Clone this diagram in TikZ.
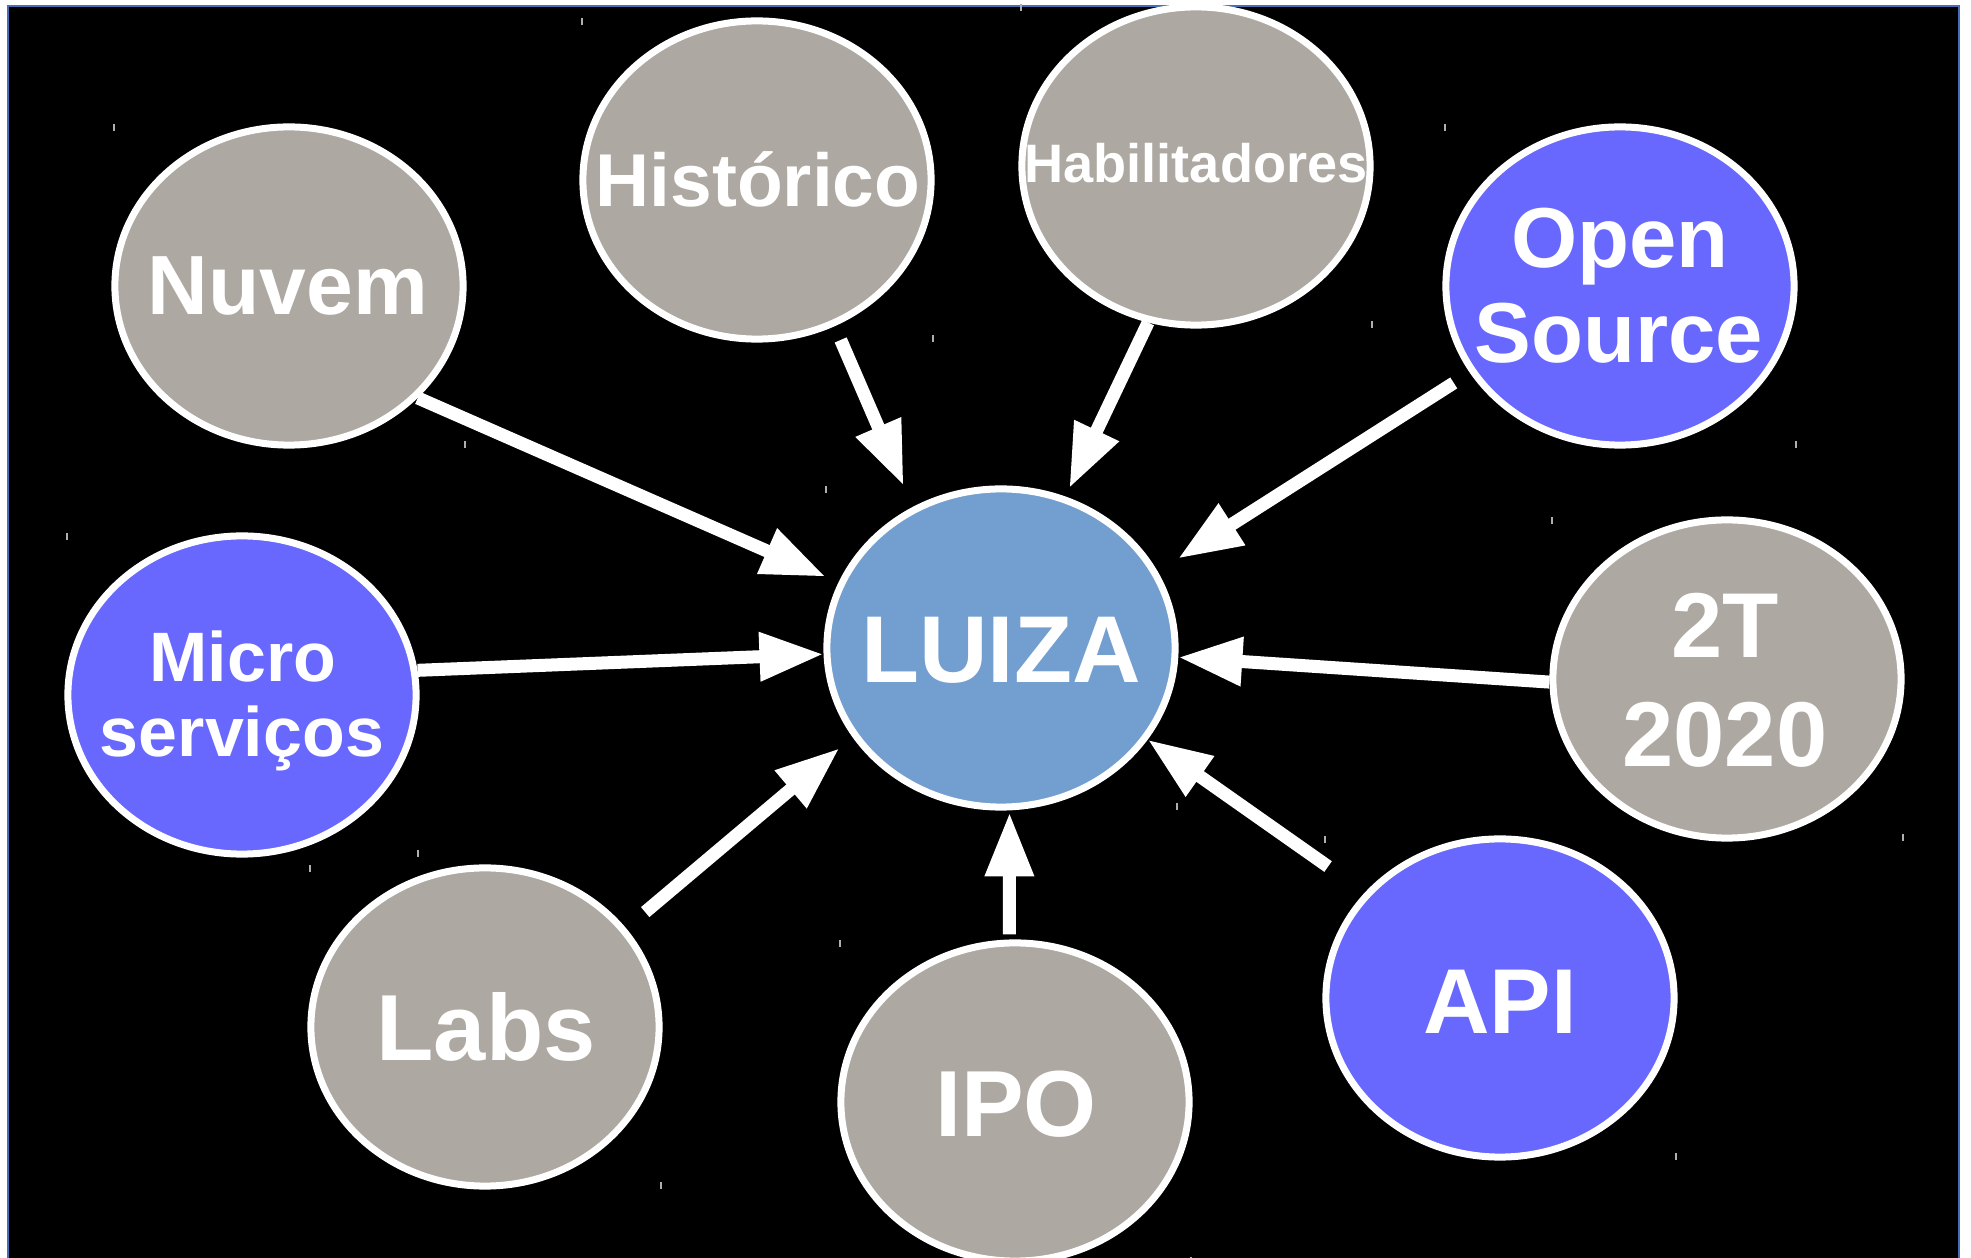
\documentclass[tikz,border=0pt]{standalone}
\usepackage{fontspec}
\setmainfont{Liberation Sans}
\usetikzlibrary{arrows.meta,shapes.geometric,calc}
\definecolor{bubgray}{RGB}{173,168,161}
\definecolor{bubviolet}{RGB}{104,104,255}
\definecolor{bubluiza}{RGB}{114,159,207}
\definecolor{frameblue}{RGB}{70,110,180}
\definecolor{tickgray}{RGB}{175,175,175}
\begin{document}
\begin{tikzpicture}[x=0.01cm,y=-0.01cm,
  bub/.style={ellipse, draw=white, line width=0.07cm, minimum width=3.48cm, minimum height=3.18cm, inner sep=0pt},
  gbub/.style={bub, fill=bubgray},
  vbub/.style={bub, fill=bubviolet},
  lbub/.style={bub, fill=bubluiza},
  lbl/.style={text=white, anchor=base, inner sep=0pt},
  arr/.style={draw=white, line width=0.13cm, -{Triangle[length=0.64cm,width=0.46cm]}},
  tk/.style={draw=tickgray, line width=0.02cm}
]
\useasboundingbox (0,0) rectangle (1971,1258);
\fill[white] (0,0) rectangle (1971,1258);
\fill[black] (8,6) rectangle (1959,1258);
\draw[frameblue, line width=0.02cm] (8,1258) -- (8,6) -- (1959,6) -- (1959,1258);

% bubbles
\node[gbub] (nuvem) at (289,286) {};
\node[gbub] (historico) at (757,180) {};
\node[gbub] (habil) at (1196,166) {};
\node[vbub] (open) at (1620,286) {};
\node[vbub] (micro) at (242,695) {};
\node[lbub] (luiza) at (1001,648) {};
\node[gbub] (t2020) at (1727,679) {};
\node[gbub] (labs) at (485,1027) {};
\node[gbub] (ipo) at (1015,1102) {};
\node[vbub] (api) at (1500,998) {};

% corner ticks
\foreach \n in {nuvem,historico,habil,open,micro,luiza,t2020,labs,ipo,api}{
  \draw[tk] ($(\n.west|-\n.north)+(3,1)$) -- ++(0,7);
  \draw[tk] ($(\n.east|-\n.south)+(-2,-1)$) -- ++(0,-7);
}

% labels
\node[lbl, font=\bfseries\fontsize{23.9pt}{28pt}\selectfont] (tnuvem) at (288,315) {Nuvem};
\node[lbl, font=\bfseries\fontsize{21.3pt}{25pt}\selectfont] (thist) at (758,207) {Histórico};
\node[lbl, font=\bfseries\fontsize{15.4pt}{18pt}\selectfont] (thabil) at (1196,183) {Habilitadores};
\node[lbl, font=\bfseries\fontsize{24.2pt}{28pt}\selectfont] (topen1) at (1620,268) {Open};
\node[lbl, font=\bfseries\fontsize{24.2pt}{28pt}\selectfont] (topen2) at (1619,363) {Source};
\node[lbl, font=\bfseries\fontsize{19.9pt}{24pt}\selectfont] (tmicro1) at (243,682) {Micro};
\node[lbl, font=\bfseries\fontsize{19.9pt}{24pt}\selectfont] (tmicro2) at (242,757) {serviços};
\node[lbl, font=\bfseries\fontsize{27pt}{32pt}\selectfont] (tluiza) at (1001,683) {LUIZA};
\node[lbl, font=\bfseries\fontsize{26.2pt}{31pt}\selectfont] (t2t) at (1725,658) {2T};
\node[lbl, font=\bfseries\fontsize{26.2pt}{31pt}\selectfont] (t2020t) at (1725,767) {2020};
\node[lbl, font=\bfseries\fontsize{26.7pt}{31pt}\selectfont] (tlabs) at (486,1061) {Labs};
\node[lbl, font=\bfseries\fontsize{26.7pt}{31pt}\selectfont] (tipo) at (1016,1137) {IPO};
\node[lbl, font=\bfseries\fontsize{26.2pt}{31pt}\selectfont] (tapi) at (1500,1034) {API};

% arrows
\draw[arr, shorten >=0.14cm] (nuvem.-41.3) -- (luiza.158.9);
\draw[arr, shorten <=0.15cm, shorten >=0.23cm] (historico.-62.6) -- (luiza.122.3);
\draw[arr, shorten >=0.09cm] (habil.-107.4) -- (luiza.67.3);
\draw[arr, shorten <=0.19cm, shorten >=0.24cm] (open.-150) -- (luiza.26.4);
\draw[arr] (micro.8) -- (luiza.182.9);
\draw[arr] (t2020.181.9) -- (luiza.-3.3);
\draw[arr, shorten <=0.25cm, shorten >=0.17cm] (labs.35.5) -- (luiza.211.6);
\draw[arr, shorten <=0.05cm, shorten >=0.02cm] (ipo.92) -- (luiza.-87.5);
\draw[arr, shorten <=0.45cm] (api.142.5) -- (luiza.-32);
\end{tikzpicture}
\end{document}
